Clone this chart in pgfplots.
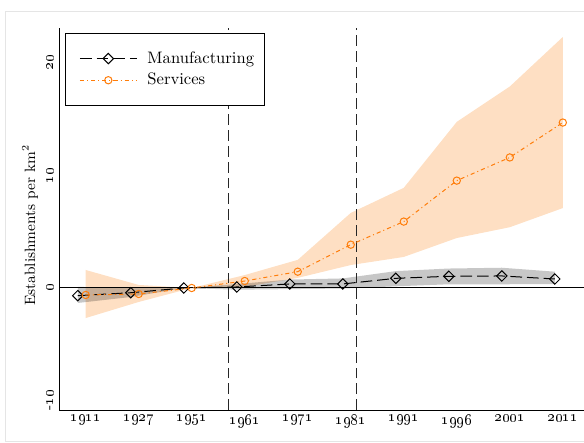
\documentclass[border=0pt]{standalone}
\usepackage{pgfplots}
\pgfplotsset{compat=1.18}
\usepackage{pgfplotstable}
\definecolor{svc}{RGB}{255,125,10}
\definecolor{svcband}{RGB}{250,140,40}

\pgfplotstableread{
x y
-0.15 -0.68
0.85 -0.42
1.85 0.00
2.85 0.09
3.85 0.36
4.85 0.36
5.85 0.86
6.85 1.04
7.85 1.07
8.85 0.80
}\manuf

% band polygon: upper bound forward, lower bound backward
\pgfplotstableread{
x y
-0.15 0.10
0.85 0.00
1.85 0.00
2.85 0.35
3.85 0.75
4.85 0.85
5.85 1.50
6.85 1.73
7.85 1.80
8.85 1.45
8.85 0.35
7.85 0.33
6.85 0.33
5.85 0.15
4.85 -0.05
3.85 -0.10
2.85 -0.15
1.85 0.00
0.85 -0.80
-0.15 -1.33
}\manufband

\pgfplotstableread{
x y
0 -0.62
1 -0.53
2 0.00
3 0.62
4 1.45
5 3.85
6 5.90
7 9.54
8 11.60
9 14.70
}\serv

\pgfplotstableread{
x y
0 1.60
1 0.27
2 0.00
3 1.15
4 2.50
5 6.67
6 8.90
7 14.76
8 17.90
9 22.30
9 7.10
8 5.40
7 4.44
6 2.76
5 2.04
4 0.90
3 0.10
2 0.00
1 -1.24
0 -2.67
}\servband

\begin{document}
\begin{tikzpicture}
\useasboundingbox (0,0) rectangle (350.4bp,-265.2bp);
\draw[black!10, line width=0.6bp] (350.4bp,-6.6bp) -- (3bp,-6.6bp) -- (3bp,-264.6bp) -- (350.4bp,-264.6bp);
\begin{axis}[
  at={(35.4bp,-246bp)}, anchor=south west,
  scale only axis, width=315bp, height=229.2bp,
  xmin=-0.504, xmax=9.40, ymin=-10.84, ymax=23.1,
  axis x line=bottom, axis y line=left,
  axis line style={-, line width=0.6bp},
  major tick length=0pt,
  xtick={0,1,2,3,4,5,6,7,8,9},
  xticklabels={\oldstylenums{1911},\oldstylenums{1927},\oldstylenums{1951},\oldstylenums{1961},\oldstylenums{1971},\oldstylenums{1981},\oldstylenums{1991},\oldstylenums{1996},\oldstylenums{2001},\oldstylenums{2011}},
  ytick={-10,0,10,20},
  yticklabels={-\oldstylenums{10},\oldstylenums{0},\oldstylenums{10},\oldstylenums{20}},
  ticklabel style={font=\fontsize{9}{11}\selectfont},
  xticklabel style={anchor=north, inner sep=2.8bp},
  yticklabel style={rotate=90, anchor=south, inner sep=3.4bp},
  ylabel={Establishments per km$^2$},
  ylabel style={at={(axis description cs:-0.055,0.484)}, anchor=center, font=\fontsize{9}{11}\selectfont},
  legend style={at={(axis description cs:0.0114,0.987)}, anchor=north west,
    draw=black, line width=0.6bp, inner xsep=4bp, inner ysep=8.8bp,
    font=\fontsize{10}{12}\selectfont, row sep=0.5bp, column sep=4.2bp},
  legend cell align=left,
  legend image code/.code={\path (0bp,0bp) (38.4bp,0bp);\draw[mark repeat=2, mark phase=2, #1] plot coordinates {(4.4bp,0bp) (21.4bp,0bp) (38.4bp,0bp)};},
]
% bands
\addplot[fill=svcband, fill opacity=0.28, draw=none, forget plot] table[x=x, y=y]{\servband} -- cycle;
\addplot[fill=black, fill opacity=0.22, draw=none, forget plot] table[x=x, y=y]{\manufband} -- cycle;
% reference lines
\draw[black, line width=0.6bp] (-0.504,0) -- (9.40,0);
\draw[black!85, line width=0.6bp, dash pattern=on 6.5bp off 3bp] (2.70,-10.84) -- (2.70,23.1);
\draw[black!85, line width=0.6bp, dash pattern=on 6.5bp off 3bp] (5.11,-10.84) -- (5.11,23.1);
% series
\addplot[black, line width=0.6bp, dash pattern=on 7bp off 3bp, mark=square, mark size=2.2bp, mark options={solid, fill=none, rotate=45}] table[x=x, y=y]{\manuf};
\addlegendentry{Manufacturing}
\addplot[svc, line width=0.6bp, dash pattern=on 2.5bp off 1.8bp on 0.6bp off 1.8bp, mark=o, mark size=2.2bp, mark options={solid}] table[x=x, y=y]{\serv};
\addlegendentry{Services}
\end{axis}
\end{tikzpicture}
\end{document}
